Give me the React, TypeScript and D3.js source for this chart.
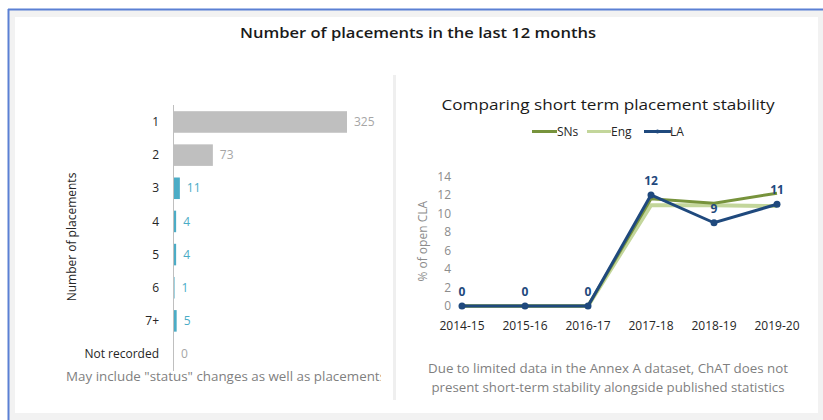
import React from "react";
import * as d3 from "d3";

const placementCats = ["1", "2", "3", "4", "5", "6", "7+", "Not recorded"];
const placementVals = [325, 73, 11, 4, 4, 1, 5, 0];
const placementHighlight = [false, false, true, true, true, true, true, false];

const years = ["2014-15", "2015-16", "2016-17", "2017-18", "2018-19", "2019-20"];
const snsVals = [0, 0, 0, 11.6, 11.1, 12.2];
const engVals = [0, 0, 0, 10.9, 10.9, 10.8];
const laVals = [0, 0, 0, 12, 9, 11];
const yTicks = [0, 2, 4, 6, 8, 10, 12, 14];

const FONT = "'Open Sans', 'Noto Sans', sans-serif";
const GREY_BAR = "#bfbfbf";
const TEAL = "#4bacc6";
const SNS = "#77933c";
const ENG = "#c3d69b";
const LA = "#1f497d";

export default function App() {
  const yBand = d3
    .scaleBand<string>()
    .domain(placementCats)
    .range([105.4, 370.6])
    .paddingInner(0.35)
    .paddingOuter(0.175);
  const xBar = d3.scaleLinear().domain([0, 325]).range([174, 347]);

  const xPt = d3.scalePoint<string>().domain(years).range([462, 777]);
  const yLin = d3.scaleLinear().domain([0, 14]).range([306, 176.5]);
  const line = d3
    .line<number>()
    .x((_, i) => xPt(years[i]) as number)
    .y((d) => yLin(d));

  return (
    <div style={{ position: "absolute", left: 0, top: 0 }}>
      <svg width={823} height={420} style={{ display: "block" }}>
        <rect x={0} y={0} width={823} height={420} fill="#ffffff" />
        <rect x={9} y={10} width={814} height={410} fill="#f2f2f2" />
        <line x1={8} y1={9.5} x2={823} y2={9.5} stroke="#5b80d4" strokeWidth={2} />
        <line x1={8.5} y1={9} x2={8.5} y2={420} stroke="#5b80d4" strokeWidth={2} />
        <rect x={15} y={17} width={803} height={396} fill="#ffffff" />

        <text
          x={418}
          y={38}
          textAnchor="middle"
          fontFamily={FONT}
          fontSize={15}
          fontWeight={600}
          fill="#1a1a1a"
          textLength={356}
          lengthAdjust="spacingAndGlyphs"
        >
          Number of placements in the last 12 months
        </text>

        {/* divider */}
        <line x1={394.5} y1={75} x2={394.5} y2={400} stroke="#efefef" strokeWidth={3} />

        {/* Left bar chart */}
        <g>
          {placementCats.map((c, i) => {
            const y = yBand(c) as number;
            const h = yBand.bandwidth();
            const v = placementVals[i];
            const col = placementHighlight[i] ? TEAL : GREY_BAR;
            const labCol = placementHighlight[i] ? TEAL : "#a6a6a6";
            return (
              <g key={c}>
                <rect x={xBar(0)} y={y} width={xBar(v) - xBar(0)} height={h} fill={col} />
                <text
                  x={159}
                  y={y + h / 2}
                  dy="0.35em"
                  textAnchor="end"
                  fontFamily={FONT}
                  fontSize={12}
                  fill="#262626"
                >
                  {c}
                </text>
                <text
                  x={xBar(v) + 7}
                  y={y + h / 2}
                  dy="0.35em"
                  fontFamily={FONT}
                  fontSize={12}
                  fill={labCol}
                >
                  {v}
                </text>
              </g>
            );
          })}
          <line x1={173.5} y1={105} x2={173.5} y2={371} stroke="#bfbfbf" strokeWidth={1} />
          <text
            transform="translate(76,237) rotate(-90)"
            textAnchor="middle"
            fontFamily={FONT}
            fontSize={12}
            fill="#262626"
          >
            Number of placements
          </text>
          <clipPath id="noteClip">
            <rect x={15} y={360} width={366} height={30} />
          </clipPath>
          <g clipPath="url(#noteClip)">
            <text
              x={66}
              y={381}
              fontFamily={FONT}
              fontSize={12}
              fill="#7f7f7f"
              textLength={320}
              lengthAdjust="spacingAndGlyphs"
            >
              May include "status" changes as well as placements
            </text>
          </g>
        </g>

        {/* Right line chart */}
        <g>
          <text
            x={608}
            y={110}
            textAnchor="middle"
            fontFamily={FONT}
            fontSize={15}
            fill="#1a1a1a"
            textLength={333}
            lengthAdjust="spacingAndGlyphs"
          >
            Comparing short term placement stability
          </text>

          {/* legend */}
          {[
            { name: "SNs", color: SNS, x: 532, w: 25, tx: 557 },
            { name: "Eng", color: ENG, x: 587, w: 24, tx: 611 },
            { name: "LA", color: LA, x: 644, w: 27, tx: 670 },
          ].map((l) => (
            <g key={l.name}>
              <line
                x1={l.x}
                y1={131.5}
                x2={l.x + l.w}
                y2={131.5}
                stroke={l.color}
                strokeWidth={3}
              />
              {l.name === "LA" && (
                <circle cx={l.x + l.w / 2} cy={131.5} r={2} fill={l.color} />
              )}
              <text
                x={l.tx}
                y={131.5}
                dy="0.35em"
                fontFamily={FONT}
                fontSize={12}
                fill="#262626"
              >
                {l.name}
              </text>
            </g>
          ))}

          {/* y ticks */}
          {yTicks.map((t) => (
            <text
              key={t}
              x={451}
              y={yLin(t)}
              dy="0.35em"
              textAnchor="end"
              fontFamily={FONT}
              fontSize={12}
              fill="#8c8c8c"
            >
              {t}
            </text>
          ))}
          <text
            transform={`translate(427,${(yLin(0) + yLin(14)) / 2}) rotate(-90)`}
            textAnchor="middle"
            fontFamily={FONT}
            fontSize={12}
            fill="#8c8c8c"
          >
            % of open CLA
          </text>

          {/* x labels */}
          {years.map((yr) => (
            <text
              key={yr}
              x={xPt(yr) as number}
              y={326}
              dy="0.35em"
              textAnchor="middle"
              fontFamily={FONT}
              fontSize={12}
              fill="#262626"
            >
              {yr}
            </text>
          ))}

          <path d={line(engVals) || ""} fill="none" stroke={ENG} strokeWidth={4} />
          <path d={line(snsVals) || ""} fill="none" stroke={SNS} strokeWidth={3} />
          <path d={line(laVals) || ""} fill="none" stroke={LA} strokeWidth={3} />
          {laVals.map((v, i) => (
            <g key={i}>
              <circle cx={xPt(years[i]) as number} cy={yLin(v)} r={3.5} fill={LA} />
              <text
                x={xPt(years[i]) as number}
                y={yLin(v) - 10}
                textAnchor="middle"
                fontFamily={FONT}
                fontSize={12}
                fontWeight={700}
                fill={LA}
              >
                {v}
              </text>
            </g>
          ))}

          <text
            x={608}
            y={373}
            textAnchor="middle"
            fontFamily={FONT}
            fontSize={12}
            fill="#7f7f7f"
            textLength={360}
            lengthAdjust="spacingAndGlyphs"
          >
            Due to limited data in the Annex A dataset, ChAT does not
          </text>
          <text
            x={608}
            y={392}
            textAnchor="middle"
            fontFamily={FONT}
            fontSize={12}
            fill="#7f7f7f"
            textLength={353}
            lengthAdjust="spacingAndGlyphs"
          >
            present short-term stability alongside published statistics
          </text>
        </g>
      </svg>
    </div>
  );
}
